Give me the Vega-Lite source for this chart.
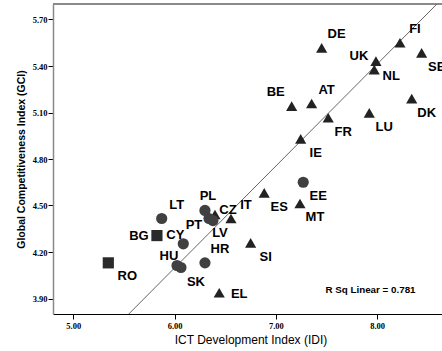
{
  "$schema": "https://vega.github.io/schema/vega-lite/v6.json",
  "autosize": {"type": "none"},
  "padding": {"left": 53, "top": 4, "right": 0, "bottom": 37},
  "width": 389,
  "height": 310,
  "background": "white",
  "config": {
    "view": {"stroke": null},
    "axis": {"grid": false, "labelFont": "Liberation Serif", "labelFontWeight": "bold", "labelFontSize": 8.5, "labelColor": "#000", "titleFont": "Liberation Sans", "titleColor": "#000", "tickColor": "#000", "tickSize": 5}
  },
  "datasets": {
    "eu": [
      {"c": "DE", "x": 7.452, "y": 5.517, "g": "triangle"},
      {"c": "FI", "x": 8.225, "y": 5.550, "g": "triangle"},
      {"c": "UK", "x": 7.988, "y": 5.431, "g": "triangle"},
      {"c": "NL", "x": 7.971, "y": 5.377, "g": "triangle"},
      {"c": "SE", "x": 8.439, "y": 5.485, "g": "triangle"},
      {"c": "AT", "x": 7.353, "y": 5.158, "g": "triangle"},
      {"c": "BE", "x": 7.156, "y": 5.141, "g": "triangle"},
      {"c": "DK", "x": 8.341, "y": 5.190, "g": "triangle"},
      {"c": "LU", "x": 7.922, "y": 5.098, "g": "triangle"},
      {"c": "FR", "x": 7.517, "y": 5.066, "g": "triangle"},
      {"c": "IE", "x": 7.245, "y": 4.930, "g": "triangle"},
      {"c": "EE", "x": 7.270, "y": 4.650, "g": "circle"},
      {"c": "MT", "x": 7.238, "y": 4.513, "g": "triangle"},
      {"c": "ES", "x": 6.885, "y": 4.582, "g": "triangle"},
      {"c": "IT", "x": 6.557, "y": 4.416, "g": "triangle"},
      {"c": "CZ", "x": 6.399, "y": 4.442, "g": "triangle"},
      {"c": "PL", "x": 6.300, "y": 4.468, "g": "circle"},
      {"c": "LT", "x": 5.873, "y": 4.416, "g": "circle"},
      {"c": "PT", "x": 6.340, "y": 4.416, "g": "circle"},
      {"c": "LV", "x": 6.379, "y": 4.403, "g": "circle"},
      {"c": "CY", "x": 6.086, "y": 4.253, "g": "circle"},
      {"c": "BG", "x": 5.826, "y": 4.306, "g": "square"},
      {"c": "HR", "x": 6.300, "y": 4.130, "g": "circle"},
      {"c": "HU", "x": 6.024, "y": 4.113, "g": "circle"},
      {"c": "SK", "x": 6.063, "y": 4.100, "g": "circle"},
      {"c": "SI", "x": 6.751, "y": 4.259, "g": "triangle"},
      {"c": "EL", "x": 6.441, "y": 3.937, "g": "triangle"},
      {"c": "RO", "x": 5.346, "y": 4.130, "g": "square"}
    ],
    "fit": [
      {"x": 5.548, "y": 3.8},
      {"x": 8.59, "y": 5.8}
    ]
  },
  "data": {"name": "eu"},
  "encoding": {
    "x": {"field": "x", "type": "quantitative", "scale": {"domain": [4.8, 8.64], "nice": false, "zero": false},
      "axis": {"values": [5, 6, 7, 8], "format": ".2f", "title": "ICT Development Index (IDI)", "titleFontSize": 12, "titleFontWeight": "normal", "titlePadding": 5, "labelPadding": 2, "domainColor": "#000", "titleX": 197.5}},
    "y": {"field": "y", "type": "quantitative", "scale": {"domain": [3.8, 5.8], "nice": false, "zero": false},
      "axis": {"values": [3.9, 4.2, 4.5, 4.8, 5.1, 5.4, 5.7], "format": ".2f", "title": "Global Competitiveness Index (GCI)", "titleFontSize": 10.5, "titleFontWeight": "bold", "titlePadding": 6, "labelPadding": 1, "domainColor": "#8a8a8a", "domainWidth": 1.5}}
  },
  "layer": [
    {"mark": {"type": "rule", "color": "#8a8a8a", "strokeWidth": 1.5}, "encoding": {"x": null, "y": {"datum": 5.8}}},
    {"data": {"name": "fit"},
      "mark": {"type": "line", "color": "#666", "strokeWidth": 1, "clip": true}},
    {"mark": {"type": "point", "filled": true, "opacity": 1, "strokeWidth": 0},
      "encoding": {
        "shape": {"field": "g", "type": "nominal", "scale": {"domain": ["triangle", "circle", "square"], "range": ["triangle-up", "circle", "square"]}, "legend": null},
        "size": {"field": "g", "type": "nominal", "scale": {"domain": ["triangle", "circle", "square"], "range": [125, 125, 72]}, "legend": null},
        "color": {"field": "g", "type": "nominal", "scale": {"domain": ["triangle", "circle", "square"], "range": ["#222222", "#404040", "#2a2a2a"]}, "legend": null}
      }},
    {"transform": [{"filter": {"field": "c", "oneOf": ["DE", "FI", "AT", "IT", "LT", "HR"]}}],
      "mark": {"type": "text", "font": "Liberation Sans", "fontWeight": "bold", "fontSize": 13, "color": "#000", "dx": 15, "dy": -14}, "encoding": {"text": {"field": "c"}}},
    {"transform": [{"filter": {"field": "c", "oneOf": ["SE", "DK", "LU", "FR", "IE", "EE", "MT", "ES", "SI", "SK"]}}],
      "mark": {"type": "text", "font": "Liberation Sans", "fontWeight": "bold", "fontSize": 13, "color": "#000", "dx": 15, "dy": 14}, "encoding": {"text": {"field": "c"}}},
    {"transform": [{"filter": {"field": "c", "oneOf": ["RO"]}}],
      "mark": {"type": "text", "font": "Liberation Sans", "fontWeight": "bold", "fontSize": 13, "color": "#000", "dx": 19, "dy": 13}, "encoding": {"text": {"field": "c"}}},
    {"transform": [{"filter": {"field": "c", "oneOf": ["BE"]}}],
      "mark": {"type": "text", "font": "Liberation Sans", "fontWeight": "bold", "fontSize": 13, "color": "#000", "dx": -16, "dy": -14}, "encoding": {"text": {"field": "c"}}},
    {"transform": [{"filter": {"field": "c", "oneOf": ["UK"]}}],
      "mark": {"type": "text", "font": "Liberation Sans", "fontWeight": "bold", "fontSize": 13, "color": "#000", "dx": -17, "dy": -5}, "encoding": {"text": {"field": "c"}}},
    {"transform": [{"filter": {"field": "c", "oneOf": ["BG"]}}],
      "mark": {"type": "text", "font": "Liberation Sans", "fontWeight": "bold", "fontSize": 13, "color": "#000", "dx": -18, "dy": 0}, "encoding": {"text": {"field": "c"}}},
    {"transform": [{"filter": {"field": "c", "oneOf": ["PT"]}}],
      "mark": {"type": "text", "font": "Liberation Sans", "fontWeight": "bold", "fontSize": 13, "color": "#000", "dx": -15, "dy": 6}, "encoding": {"text": {"field": "c"}}},
    {"transform": [{"filter": {"field": "c", "oneOf": ["NL"]}}],
      "mark": {"type": "text", "font": "Liberation Sans", "fontWeight": "bold", "fontSize": 13, "color": "#000", "dx": 17, "dy": 6}, "encoding": {"text": {"field": "c"}}},
    {"transform": [{"filter": {"field": "c", "oneOf": ["CZ"]}}],
      "mark": {"type": "text", "font": "Liberation Sans", "fontWeight": "bold", "fontSize": 13, "color": "#000", "dx": 13, "dy": -4}, "encoding": {"text": {"field": "c"}}},
    {"transform": [{"filter": {"field": "c", "oneOf": ["EL"]}}],
      "mark": {"type": "text", "font": "Liberation Sans", "fontWeight": "bold", "fontSize": 13, "color": "#000", "dx": 20, "dy": 1}, "encoding": {"text": {"field": "c"}}},
    {"transform": [{"filter": {"field": "c", "oneOf": ["PL"]}}],
      "mark": {"type": "text", "font": "Liberation Sans", "fontWeight": "bold", "fontSize": 13, "color": "#000", "dx": 3, "dy": -14}, "encoding": {"text": {"field": "c"}}},
    {"transform": [{"filter": {"field": "c", "oneOf": ["LV"]}}],
      "mark": {"type": "text", "font": "Liberation Sans", "fontWeight": "bold", "fontSize": 13, "color": "#000", "dx": 7, "dy": 12}, "encoding": {"text": {"field": "c"}}},
    {"transform": [{"filter": {"field": "c", "oneOf": ["CY", "HU"]}}],
      "mark": {"type": "text", "font": "Liberation Sans", "fontWeight": "bold", "fontSize": 13, "color": "#000", "dx": -8, "dy": -9}, "encoding": {"text": {"field": "c"}}},
    {"data": {"values": [{"x": 7.934, "y": 3.958, "t": "R Sq Linear = 0.781"}]},
      "mark": {"type": "text", "font": "Liberation Sans Narrow, Liberation Sans, sans-serif", "fontWeight": "bold", "fontSize": 9.8, "color": "#000"}, "encoding": {"text": {"field": "t"}}}
  ]
}
